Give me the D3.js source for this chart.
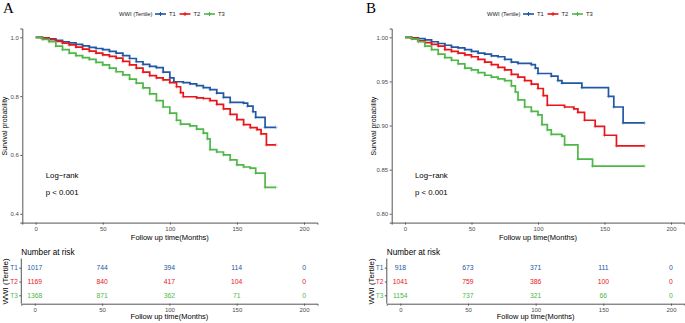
<!DOCTYPE html>
<html>
<head>
<meta charset="utf-8">
<script src="https://cdn.jsdelivr.net/npm/d3@7"></script>
<style>
  body { margin: 0; background: #fff; }
  text { font-family: "Liberation Sans", Arial, sans-serif; }
</style>
</head>
<body>
<div id="chart"></div>
<script>
// survival curves: [months, survival]
const groups = ["T1", "T2", "T3"];
const colors = ["#2158A6", "#E8161B", "#4DB848"];
const timeTicks = [0, 50, 100, 150, 200];

const survA_T1 = [[0,1],[5,0.998],[10,0.995],[15,0.99],[20,0.985],[25,0.981],[30,0.976],[35,0.971],[40,0.966],[45,0.962],[50,0.958],[55,0.952],[60,0.946],[65,0.938],[70,0.928],[75,0.917],[80,0.908],[85,0.901],[90,0.897],[95,0.882],[100,0.862],[103,0.849],[110,0.846],[115,0.842],[120,0.836],[125,0.829],[130,0.822],[135,0.81],[140,0.796],[145,0.779],[155,0.776],[158,0.766],[162,0.747],[164,0.728],[171,0.694],[179,0.694]];
const survA_T2 = [[0,1],[5,0.997],[10,0.992],[15,0.986],[20,0.98],[25,0.974],[30,0.967],[35,0.96],[40,0.953],[45,0.946],[50,0.94],[55,0.935],[60,0.929],[65,0.918],[70,0.906],[75,0.895],[80,0.882],[85,0.87],[90,0.862],[95,0.855],[100,0.846],[105,0.832],[108,0.812],[110,0.798],[120,0.794],[125,0.792],[130,0.785],[135,0.772],[140,0.757],[145,0.738],[150,0.72],[155,0.703],[160,0.693],[165,0.686],[168,0.672],[172,0.634],[179,0.634]];
const survA_T3 = [[0,1],[5,0.993],[10,0.985],[15,0.97],[20,0.958],[25,0.946],[30,0.938],[35,0.931],[40,0.925],[45,0.915],[50,0.906],[55,0.895],[60,0.883],[65,0.872],[70,0.858],[75,0.844],[80,0.828],[85,0.808],[90,0.785],[95,0.763],[100,0.742],[105,0.718],[108,0.705],[115,0.699],[120,0.688],[125,0.674],[128,0.655],[130,0.618],[135,0.61],[140,0.6],[145,0.583],[150,0.566],[155,0.559],[160,0.555],[164,0.538],[171,0.49],[179,0.49]];

const survB_T1 = [[0,1],[5,0.9995],[10,0.9985],[15,0.997],[20,0.995],[25,0.993],[30,0.991],[35,0.989],[40,0.988],[45,0.986],[50,0.984],[55,0.982],[60,0.981],[65,0.979],[70,0.978],[75,0.975],[80,0.972],[85,0.9705],[95,0.969],[98,0.965],[100,0.959],[110,0.956],[115,0.951],[118,0.948],[133,0.943],[153,0.933],[157,0.921],[164,0.903],[180,0.903]];
const survB_T2 = [[0,1],[5,0.999],[10,0.996],[15,0.994],[20,0.992],[25,0.99],[30,0.986],[35,0.984],[40,0.982],[45,0.98],[50,0.978],[55,0.975],[60,0.972],[65,0.969],[70,0.966],[75,0.963],[80,0.958],[85,0.955],[90,0.951],[95,0.947],[100,0.942],[104,0.934],[107,0.923],[120,0.921],[127,0.919],[130,0.915],[135,0.906],[143,0.899],[150,0.889],[159,0.877],[180,0.877]];
const survB_T3 = [[0,1],[5,0.998],[10,0.995],[15,0.99],[20,0.986],[25,0.981],[30,0.977],[35,0.974],[40,0.97],[45,0.965],[50,0.963],[55,0.96],[60,0.957],[65,0.955],[70,0.953],[75,0.951],[80,0.945],[83,0.938],[85,0.929],[90,0.921],[95,0.916],[100,0.912],[103,0.901],[107,0.895],[110,0.89],[118,0.888],[120,0.878],[130,0.862],[141,0.854],[180,0.854]];

// number at risk at 0, 50, 100, 150, 200
const riskA_T1 = [1017, 744, 394, 114, 0];
const riskA_T2 = [1169, 840, 417, 104, 0];
const riskA_T3 = [1368, 871, 362, 71, 0];
const riskB_T1 = [918, 673, 371, 111, 0];
const riskB_T2 = [1041, 759, 386, 100, 0];
const riskB_T3 = [1154, 737, 321, 66, 0];

const yTicksA = [0.4, 0.6, 0.8, 1.0];
const yTicksB = [0.80, 0.85, 0.90, 0.95, 1.00];

const panels = [
  { tag: "A", curves: [survA_T1, survA_T2, survA_T3], risk: [riskA_T1, riskA_T2, riskA_T3],
    yDomain: [0.37, 1.03], yTicks: yTicksA, yFmt: d3.format(".1f"),
    plotX: [22.3, 317.4], tableX: [21.3, 317.5], tagX: 3, legendX: 119 },
  { tag: "B", curves: [survB_T1, survB_T2, survB_T3], risk: [riskB_T1, riskB_T2, riskB_T3],
    yDomain: [0.79, 1.01], yTicks: yTicksB, yFmt: d3.format(".2f"),
    plotX: [391.7, 684.3], tableX: [386.8, 684.5], tagX: 366, legendX: 487 }
];

const W = 685, H = 323;
const axisCol = "#555", tickCol = "#4d4d4d";

const svg = d3.select("#chart").append("svg")
  .attr("width", W).attr("height", H);

function plus(g, x, y, r, col, op) {
  g.append("path")
    .attr("d", `M${x - r},${y}H${x + r}M${x},${y - r}V${y + r}`)
    .attr("stroke", col).attr("stroke-width", 1).attr("opacity", op);
}

function drawPanel(p) {
  const g = svg.append("g");

  // panel letter
  g.append("text").attr("x", p.tagX).attr("y", 13)
    .style("font-family", "'Liberation Serif', 'Times New Roman', serif")
    .style("font-size", "15px").text(p.tag);

  // legend
  const lg = g.append("g").attr("transform", `translate(${p.legendX},14)`);
  lg.append("text").attr("x", 0).attr("y", 2).style("font-size", "5.8px")
    .attr("fill", "#222").text("WWI (Tertile)");
  groups.forEach((grp, i) => {
    const x0 = 36 + i * 24.5;
    lg.append("line").attr("x1", x0).attr("x2", x0 + 11).attr("y1", 0).attr("y2", 0)
      .attr("stroke", colors[i]).attr("stroke-width", 1.6);
    plus(lg, x0 + 5.5, 0, 2, colors[i], 1);
    lg.append("text").attr("x", x0 + 14).attr("y", 2).style("font-size", "5.8px")
      .attr("fill", "#222").text(grp);
  });

  // survival plot
  const x = d3.scaleLinear().domain([-10, 210]).range(p.plotX);
  const y = d3.scaleLinear().domain(p.yDomain).range([222.6, 28.5]);

  const xAxis = g.append("g").attr("transform", "translate(0,222.6)")
    .call(d3.axisBottom(x).tickValues(timeTicks).tickSize(2).tickPadding(2));
  const yAxis = g.append("g").attr("transform", `translate(${p.plotX[0]},0)`)
    .call(d3.axisLeft(y).tickValues(p.yTicks).tickFormat(p.yFmt).tickSize(2).tickPadding(1.5));
  [xAxis, yAxis].forEach(a => {
    a.select(".domain").attr("stroke", axisCol).attr("stroke-width", 1);
    a.selectAll(".tick line").attr("stroke", axisCol);
    a.selectAll(".tick text").attr("fill", tickCol).style("font-size", "6px")
      .style("font-family", "'Liberation Sans', Arial, sans-serif");
  });

  g.append("text").attr("x", (x(0) + x(200)) / 2).attr("y", 240.3)
    .attr("text-anchor", "middle").style("font-size", "7.5px").text("Follow up time(Months)");
  g.append("text")
    .attr("transform", `translate(${p.plotX[0] - 15.5},126) rotate(-90)`)
    .attr("text-anchor", "middle").style("font-size", "7px").text("Survival probability");

  const line = d3.line().x(d => x(d[0])).y(d => y(d[1])).curve(d3.curveStepAfter);
  p.curves.forEach((c, i) => {
    g.append("path").datum(c).attr("d", line)
      .attr("fill", "none").attr("stroke", colors[i]).attr("stroke-width", 1.7);
    c.slice(1).forEach(d => plus(g, x(d[0]), y(d[1]), 1.8, colors[i], 0.4));
  });

  g.append("text").attr("x", x(7.5)).attr("y", 177.7).style("font-size", "7.8px").text("Log\u2212rank");
  g.append("text").attr("x", x(7.5)).attr("y", 195.4).style("font-size", "7.8px").text("p < 0.001");

  // number at risk table
  const tx = d3.scaleLinear().domain([-10, 210]).range(p.tableX);
  const ty = d3.scalePoint().domain(groups).range([267.7, 295.3]);

  g.append("text").attr("x", p.tableX[0]).attr("y", 254.6).style("font-size", "8.2px").text("Number at risk");

  const txAxis = g.append("g").attr("transform", "translate(0,303.7)")
    .call(d3.axisBottom(tx).tickValues(timeTicks).tickSize(2).tickPadding(2));
  const tyAxis = g.append("g").attr("transform", `translate(${p.tableX[0]},0)`)
    .call(d3.axisLeft(ty).tickSize(2).tickPadding(1.5));
  tyAxis.select(".domain").attr("d", `M0,258.5V303.7`);
  [txAxis, tyAxis].forEach(a => {
    a.select(".domain").attr("stroke", axisCol).attr("stroke-width", 1);
    a.selectAll(".tick line").attr("stroke", axisCol);
    a.selectAll(".tick text").attr("fill", tickCol).style("font-size", "6px")
      .style("font-family", "'Liberation Sans', Arial, sans-serif");
  });
  tyAxis.selectAll(".tick text").attr("fill", (d, i) => colors[i]).style("font-size", "6.5px");

  g.append("text").attr("x", (tx(0) + tx(200)) / 2).attr("y", 319.4)
    .attr("text-anchor", "middle").style("font-size", "7.5px").text("Follow up time(Months)");
  g.append("text")
    .attr("transform", `translate(${p.tableX[0] - 13},281.5) rotate(-90)`)
    .attr("text-anchor", "middle").style("font-size", "8px").text("WWI (Tertile)");

  p.risk.forEach((vals, i) => {
    g.append("g").selectAll("text").data(vals).join("text")
      .attr("x", (d, j) => tx(timeTicks[j]))
      .attr("y", ty(groups[i]) + 2.4)
      .attr("text-anchor", "middle").attr("fill", colors[i])
      .style("font-size", "6.8px").text(d => d);
  });
}

panels.forEach(drawPanel);
</script>
</body>
</html>
